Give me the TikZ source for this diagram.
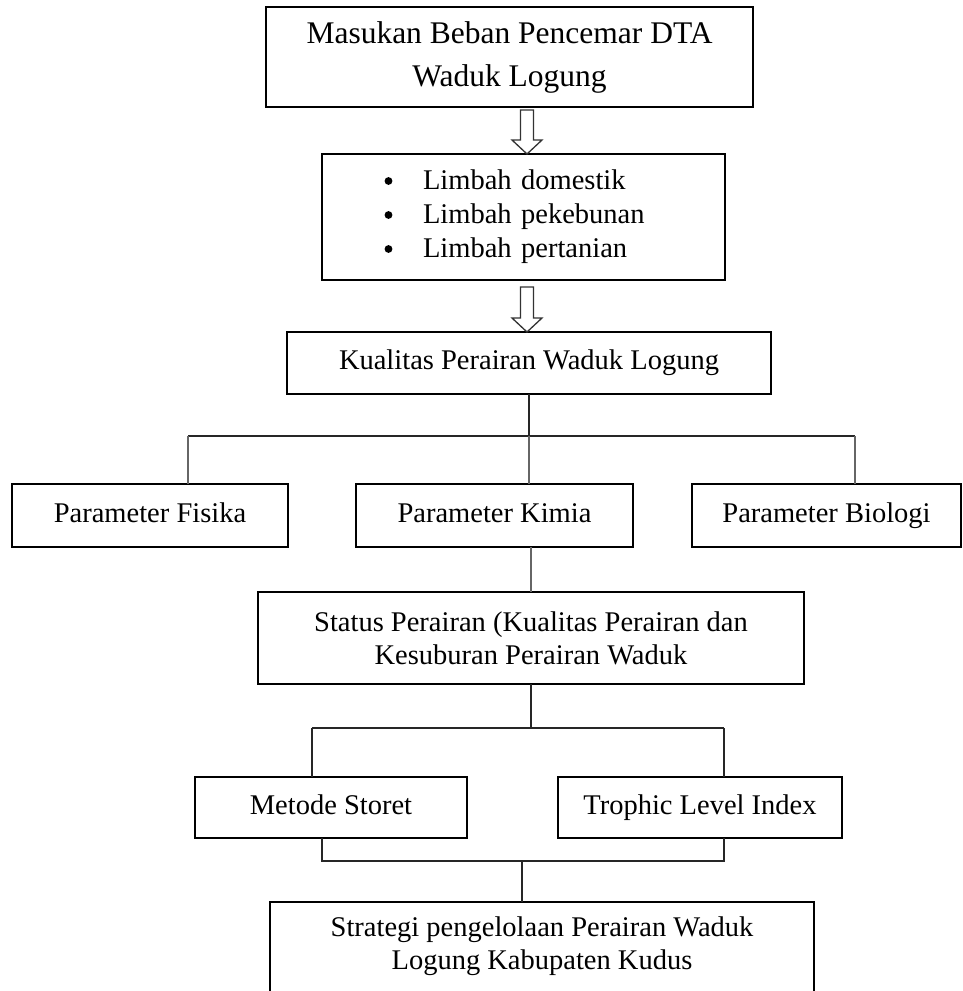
\documentclass[tikz,border=0pt]{standalone}
\usepackage{fontspec}
\setmainfont{Liberation Serif}
\usetikzlibrary{calc}
\tikzset{
  box/.style={draw=black, line width=2pt, inner sep=0pt, outer sep=0pt, align=center,
              font=\fontsize{28.5}{33}\selectfont},
  one/.style={execute at begin node=\strut},
  conn/.style={draw=black!85, line width=1.7pt},
  gconn/.style={draw=black!60, line width=1.7pt},
  boxline/.style={draw=black, line width=2pt},
  dotb/.style={fill=black},
  harr/.style={draw=black!80, line width=1.3pt, fill=white, line join=miter}
}
\newcommand{\harrow}[2]{\draw[harr] let \p1=(#1), \p2=(#2) in
  (\x1-6.5pt,\y1) -- (\x1+6.5pt,\y1) -- (\x1+6.5pt,\y2+14pt) -- (\x1+15pt,\y2+14pt)
  -- (\x2,\y2) -- (\x1-15pt,\y2+14pt) -- (\x1-6.5pt,\y2+14pt) -- cycle;}
\begin{document}
\begin{tikzpicture}[x=1pt,y=-1pt]
\useasboundingbox (0,0) rectangle (963,991);
\clip (0,0) rectangle (963,991);
\fill[white] (0,0) rectangle (963,991);

\node[box, minimum width=487pt, minimum height=100pt, font=\fontsize{31.5}{43}\selectfont] (b1) at (509.5,57)
  {Masukan Beban Pencemar DTA\\Waduk Logung};
\node[box, minimum width=403pt, minimum height=126pt, text width=403pt, align=left,
      font=\fontsize{28.5}{34}\selectfont] (b2) at (523.5,217)
  {\hspace*{101pt}Limbah domestik\\
   \hspace*{101pt}Limbah pekebunan\\
   \hspace*{101pt}Limbah pertanian};
\fill[dotb] ($(b2.center)+(-135,-36)$) circle (3.9pt);
\fill[dotb] ($(b2.center)+(-135,-2)$) circle (3.9pt);
\fill[dotb] ($(b2.center)+(-135,32)$) circle (3.9pt);
\node[box, one, minimum width=484pt, minimum height=62pt] (kual) at (529,363) {Kualitas Perairan Waduk Logung};
\node[box, one, minimum width=276pt, minimum height=63pt] (fis) at (150,515.5) {Parameter Fisika};
\node[box, one, minimum width=277pt, minimum height=63pt] (kim) at (494.5,515.5) {Parameter Kimia};
\node[box, one, minimum width=269pt, minimum height=63pt] (bio) at (826.5,515.5) {Parameter Biologi};
\node[box, minimum width=546pt, minimum height=92pt] (stat) at (531,638)
  {Status Perairan (Kualitas Perairan dan\\Kesuburan Perairan Waduk};
\node[box, one, minimum width=272pt, minimum height=61pt] (met) at (331,807.5) {Metode Storet};
\node[box, one, minimum width=284pt, minimum height=61pt] (tro) at (700,807.5) {Trophic Level Index};
\node[box, draw=none, minimum width=544pt, minimum height=88pt] (str) at (542,946)
  {Strategi pengelolaan Perairan Waduk\\Logung Kabupaten Kudus};
\draw[boxline] ($(str.south west)+(0,20)$) -- (str.north west) -- (str.north east) -- ($(str.south east)+(0,20)$);

% hollow arrows
\coordinate (a1s) at (527,110);
\coordinate (a1t) at (b2.north -| a1s);
\harrow{a1s}{a1t}
\coordinate (a2s) at (527,287);
\coordinate (a2t) at (kual.north -| a2s);
\harrow{a2s}{a2t}

% tree below Kualitas
\coordinate (j1) at (529,436);
\coordinate (jl) at (188,436);
\coordinate (jr) at (855,436);
\draw[conn] (kual.south) -- (j1);
\draw[conn] (jl) -- (jr);
\draw[gconn] (jl) -- (jl |- fis.north);
\draw[gconn] (j1) -- (j1 |- kim.north);
\draw[gconn] (jr) -- (jr |- bio.north);
\draw[gconn] (stat.north |- kim.south) -- (stat.north);

\coordinate (ml) at (312,728);
\coordinate (mr) at (724,728);
\draw[conn] (stat.south) -- (stat.south |- ml);
\draw[conn] (ml) -- (mr);
\draw[conn] (ml) -- (ml |- met.north);
\draw[conn] (mr) -- (mr |- tro.north);

\coordinate (bl) at (322,861);
\coordinate (br) at (724,861);
\coordinate (bc) at (522,861);
\draw[conn] (bl |- met.south) -- (bl) -- (br) -- (br |- tro.south);
\draw[conn] (bc) -- (bc |- str.north);
\end{tikzpicture}
\end{document}
